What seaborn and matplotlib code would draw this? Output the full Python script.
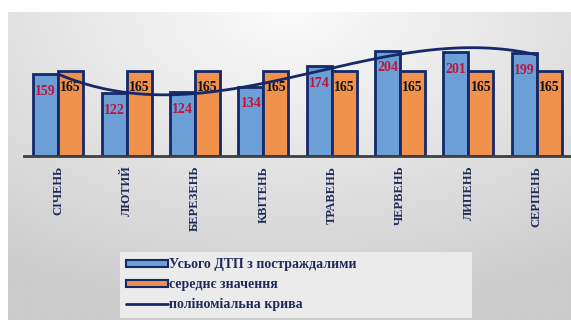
import numpy as np
import pandas as pd
import matplotlib
matplotlib.use("Agg")
import matplotlib.pyplot as plt
from matplotlib.patches import Patch
from matplotlib.lines import Line2D
import seaborn as sns

# Monthly data
months = ["СІЧЕНЬ", "ЛЮТИЙ", "БЕРЕЗЕНЬ", "КВІТЕНЬ", "ТРАВЕНЬ", "ЧЕРВЕНЬ", "ЛИПЕНЬ", "СЕРПЕНЬ"]
injured = [159, 122, 124, 134, 174, 204, 201, 199]
average = [165, 165, 165, 165, 165, 165, 165, 165]
series_names = ["Усього ДТП з постраждалими", "середнє значення", "поліноміальна крива"]

BLUE = "#6c9fd6"
ORANGE = "#f0924b"
NAVY = "#15296a"
TEXT_NAVY = "#1f2a5a"
RED = "#c0143c"
SERIF = "Liberation Serif"

sns.set_theme(style="white")
plt.rcParams["font.family"] = [SERIF, "DejaVu Serif"]

df = pd.DataFrame({
    "month": months * 2,
    "value": injured + average,
    "series": [series_names[0]] * len(months) + [series_names[1]] * len(months),
})

W, H = 571, 320
fig = plt.figure(figsize=(W / 100, H / 100), dpi=100)
fig.patch.set_facecolor("white")

# Grey backdrop panel with a soft radial gradient (light at top centre)
bg = fig.add_axes([8 / W, 0, 1 - 8 / W, (H - 12) / H], zorder=0)
yy, xx = np.mgrid[0:1:200j, 0:1:400j]
r = np.sqrt(((xx - 0.5) * 1.1) ** 2 + (yy * 1.0) ** 2)
r = np.clip(r / 1.0, 0, 1)
top_c = np.array([0.985, 0.985, 0.985])
edge_c = np.array([0.80, 0.80, 0.80])
img = top_c[None, None, :] * (1 - r[..., None]) + edge_c[None, None, :] * r[..., None]
bg.imshow(img, aspect="auto", extent=[0, 1, 1, 0], interpolation="bilinear")
bg.set_axis_off()

# Main chart area
x0, x1 = 24, 571
base_y, top_y = 156, 27
ax = fig.add_axes([x0 / W, 1 - base_y / H, (x1 - x0) / W, (base_y - top_y) / H], zorder=2)
ax.patch.set_alpha(0)

sns.barplot(data=df, x="month", y="value", hue="series",
            palette=[BLUE, ORANGE], width=0.73, gap=0,
            edgecolor=NAVY, linewidth=2.0, saturation=1, ax=ax, legend=False)

ax.set_ylim(0, 250)
ax.set_xlim(-0.5, len(months) - 0.5)

# Value labels inside the top of each bar
for cont, col in zip(ax.containers, [RED, "#111111"]):
    ax.bar_label(cont, fmt="%d", label_type="edge", padding=-17, color=col,
                 fontsize=10, fontweight="bold", family=SERIF)

# Polynomial trend of the injured counts
xi = np.arange(len(months))
coef = np.polyfit(xi, injured, 3)
xs = np.linspace(0, len(months) - 1, 200)
ax.plot(xs, np.polyval(coef, xs), color=NAVY, lw=2, zorder=5)

# Axes styling
for s in ["top", "right", "left"]:
    ax.spines[s].set_visible(False)
ax.spines["bottom"].set_color("#404040")
ax.spines["bottom"].set_linewidth(2)
ax.set_yticks([])
ax.set_xlabel("")
ax.set_ylabel("")
ax.tick_params(axis="x", length=0, pad=7)
ax.set_xticks(xi)
ax.set_xticklabels(months, rotation=90, ha="center", va="top",
                   fontsize=9, fontweight="bold", color=TEXT_NAVY, family=SERIF)

# Legend below the chart
handles = [
    Patch(facecolor=BLUE, edgecolor=NAVY, linewidth=1.5),
    Patch(facecolor=ORANGE, edgecolor=NAVY, linewidth=1.5),
    Line2D([0], [0], color=NAVY, lw=2),
]
leg = fig.legend(handles, series_names, loc="upper left",
                 bbox_to_anchor=(120 / W, 1 - 252 / H, 352 / W, 0.0), mode="expand",
                 frameon=True, fancybox=False, facecolor="#ebebeb", edgecolor="none",
                 framealpha=1, handlelength=3.0, handleheight=0.45, handletextpad=0.05,
                 labelspacing=0.5, borderpad=0.45, borderaxespad=0,
                 prop={"family": SERIF, "weight": "bold", "size": 10})
for t in leg.get_texts():
    t.set_color(TEXT_NAVY)
leg.set_zorder(3)

fig.savefig("out.png", dpi=100, facecolor="white")
